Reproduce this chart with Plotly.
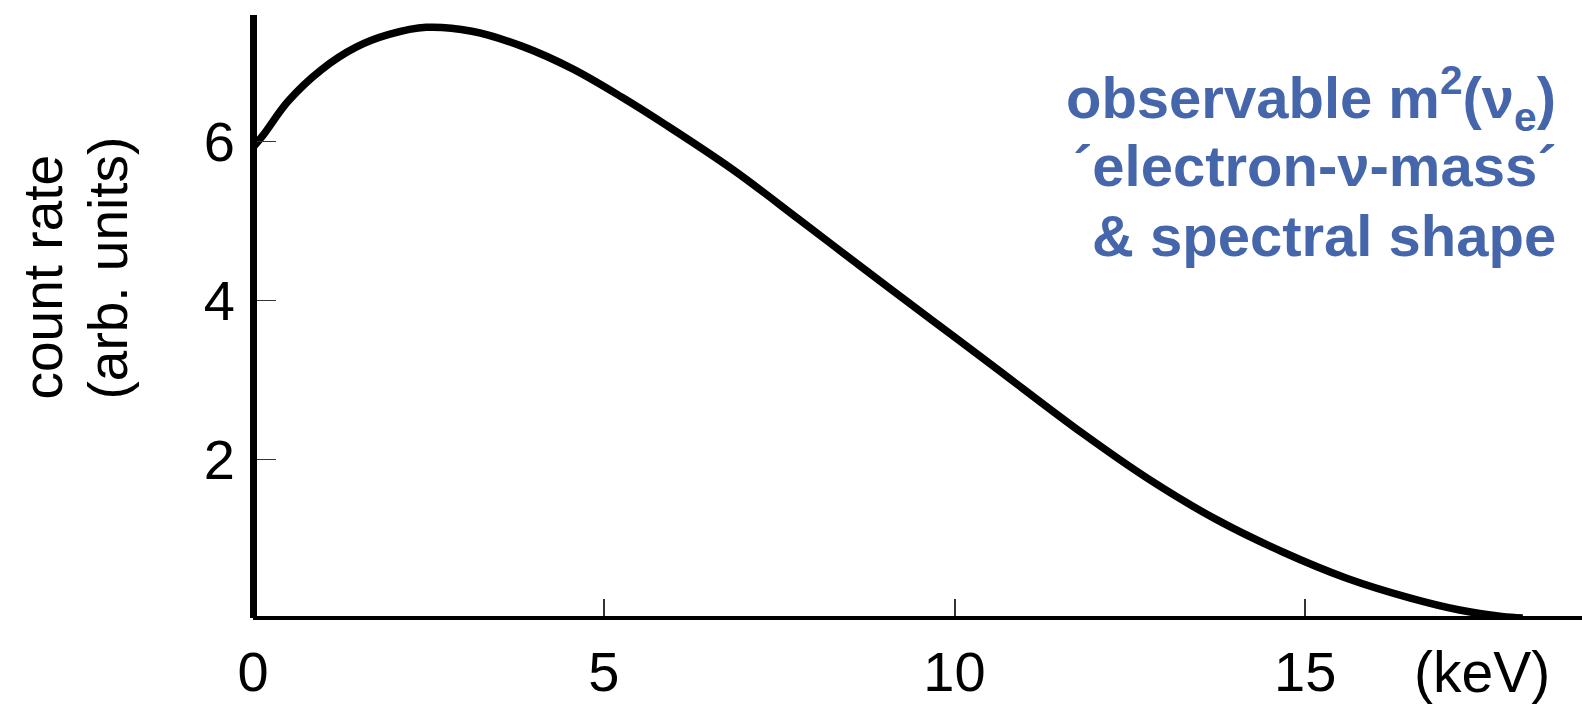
import plotly.graph_objects as go

# Data
energy_keV = [0.0, 0.15, 0.5, 0.98, 1.47, 1.94, 2.47, 3.12, 3.84, 4.55, 5.26, 5.89, 6.84,
              7.79, 8.74, 9.69, 10.55, 11.83, 12.78, 13.73, 14.68, 15.59, 16.5, 17.2,
              17.8, 18.1]
count_rate = [5.92, 6.08, 6.50, 6.90, 7.18, 7.34, 7.43, 7.38, 7.19, 6.91, 6.55, 6.20, 5.64,
              5.01, 4.37, 3.74, 3.17, 2.32, 1.74, 1.24, 0.83, 0.50, 0.25, 0.10,
              0.02, 0.0]

x_tickvals = [0, 5, 10, 15]
x_ticktext = ["0", "5", "10", "15"]
y_tickvals = [2, 4, 6]
y_ticktext = ["2", "4", "6"]

x_unit = "(keV)"
y_title_lines = ["count rate", "(arb. units)"]
note_lines = ["observable m<sup>2</sup>(ν<sub>e</sub>)",
              "´electron-ν-mass´",
              "& spectral shape"]

FONT = "Liberation Sans, Arial, sans-serif"
BLUE = "#4666AC"

W, H = 1582, 708
L, R, T, B = 253, 0, 15, 90
plot_w = W - L - R
plot_h = H - T - B
x_max = plot_w / 70.15
y_max = plot_h / 79.5

fig = go.Figure()
fig.add_trace(go.Scatter(
    x=energy_keV, y=count_rate, mode="lines",
    line=dict(color="black", width=7.5, shape="spline", smoothing=1.0),
    hoverinfo="skip", showlegend=False, cliponaxis=True,
))

def px_to_paper_x(px):
    return (px - L) / plot_w

def px_to_paper_y(py):
    return (H - B - py) / plot_h

annotations = []
# y-axis title (two rotated lines, starting at the same height)
annotations.append(dict(text=y_title_lines[0], textangle=-90, xref="paper", yref="paper",
                        x=px_to_paper_x(42), y=px_to_paper_y(402), xanchor="center", yanchor="bottom",
                        showarrow=False, font=dict(family=FONT, size=55, color="black")))
annotations.append(dict(text=y_title_lines[1], textangle=-90, xref="paper", yref="paper",
                        x=px_to_paper_x(107), y=px_to_paper_y(402), xanchor="center", yanchor="bottom",
                        showarrow=False, font=dict(family=FONT, size=55, color="black")))
# x unit label
annotations.append(dict(text=x_unit, xref="paper", yref="paper",
                        x=px_to_paper_x(1482), y=px_to_paper_y(672), xanchor="center", yanchor="middle",
                        showarrow=False, font=dict(family=FONT, size=57, color="black")))
# blue note (right aligned lines)
for i, (txt, yc) in enumerate(zip(note_lines, [98, 166, 235])):
    annotations.append(dict(text="<b>" + txt + "</b>", xref="paper", yref="paper",
                            x=px_to_paper_x(1558), y=px_to_paper_y(yc), xanchor="right", yanchor="middle",
                            align="right", showarrow=False,
                            font=dict(family=FONT, size=58, color=BLUE)))

fig.update_layout(
    width=W, height=H,
    margin=dict(l=L, r=R, t=T, b=B, pad=0),
    paper_bgcolor="white", plot_bgcolor="white",
    font=dict(family=FONT, color="black"),
    xaxis=dict(range=[0, x_max], tickvals=x_tickvals, ticktext=x_ticktext,
               showgrid=False, zeroline=False, showline=True, linecolor="black", linewidth=4,
               anchor="free", position=0,
               ticks="inside", ticklen=17, tickwidth=1.5, tickcolor="#333333",
               tickfont=dict(family=FONT, size=56, color="black"), ticklabelstandoff=4),
    yaxis=dict(range=[0, y_max], tickvals=y_tickvals, ticktext=y_ticktext,
               showgrid=False, zeroline=False, showline=True, linecolor="black", linewidth=7,
               anchor="free", position=0,
               ticks="inside", ticklen=19, tickwidth=1.2, tickcolor="#333333",
               tickfont=dict(family=FONT, size=56, color="black"), ticklabelstandoff=4),
    annotations=annotations,
)

fig.write_html("out.html")
